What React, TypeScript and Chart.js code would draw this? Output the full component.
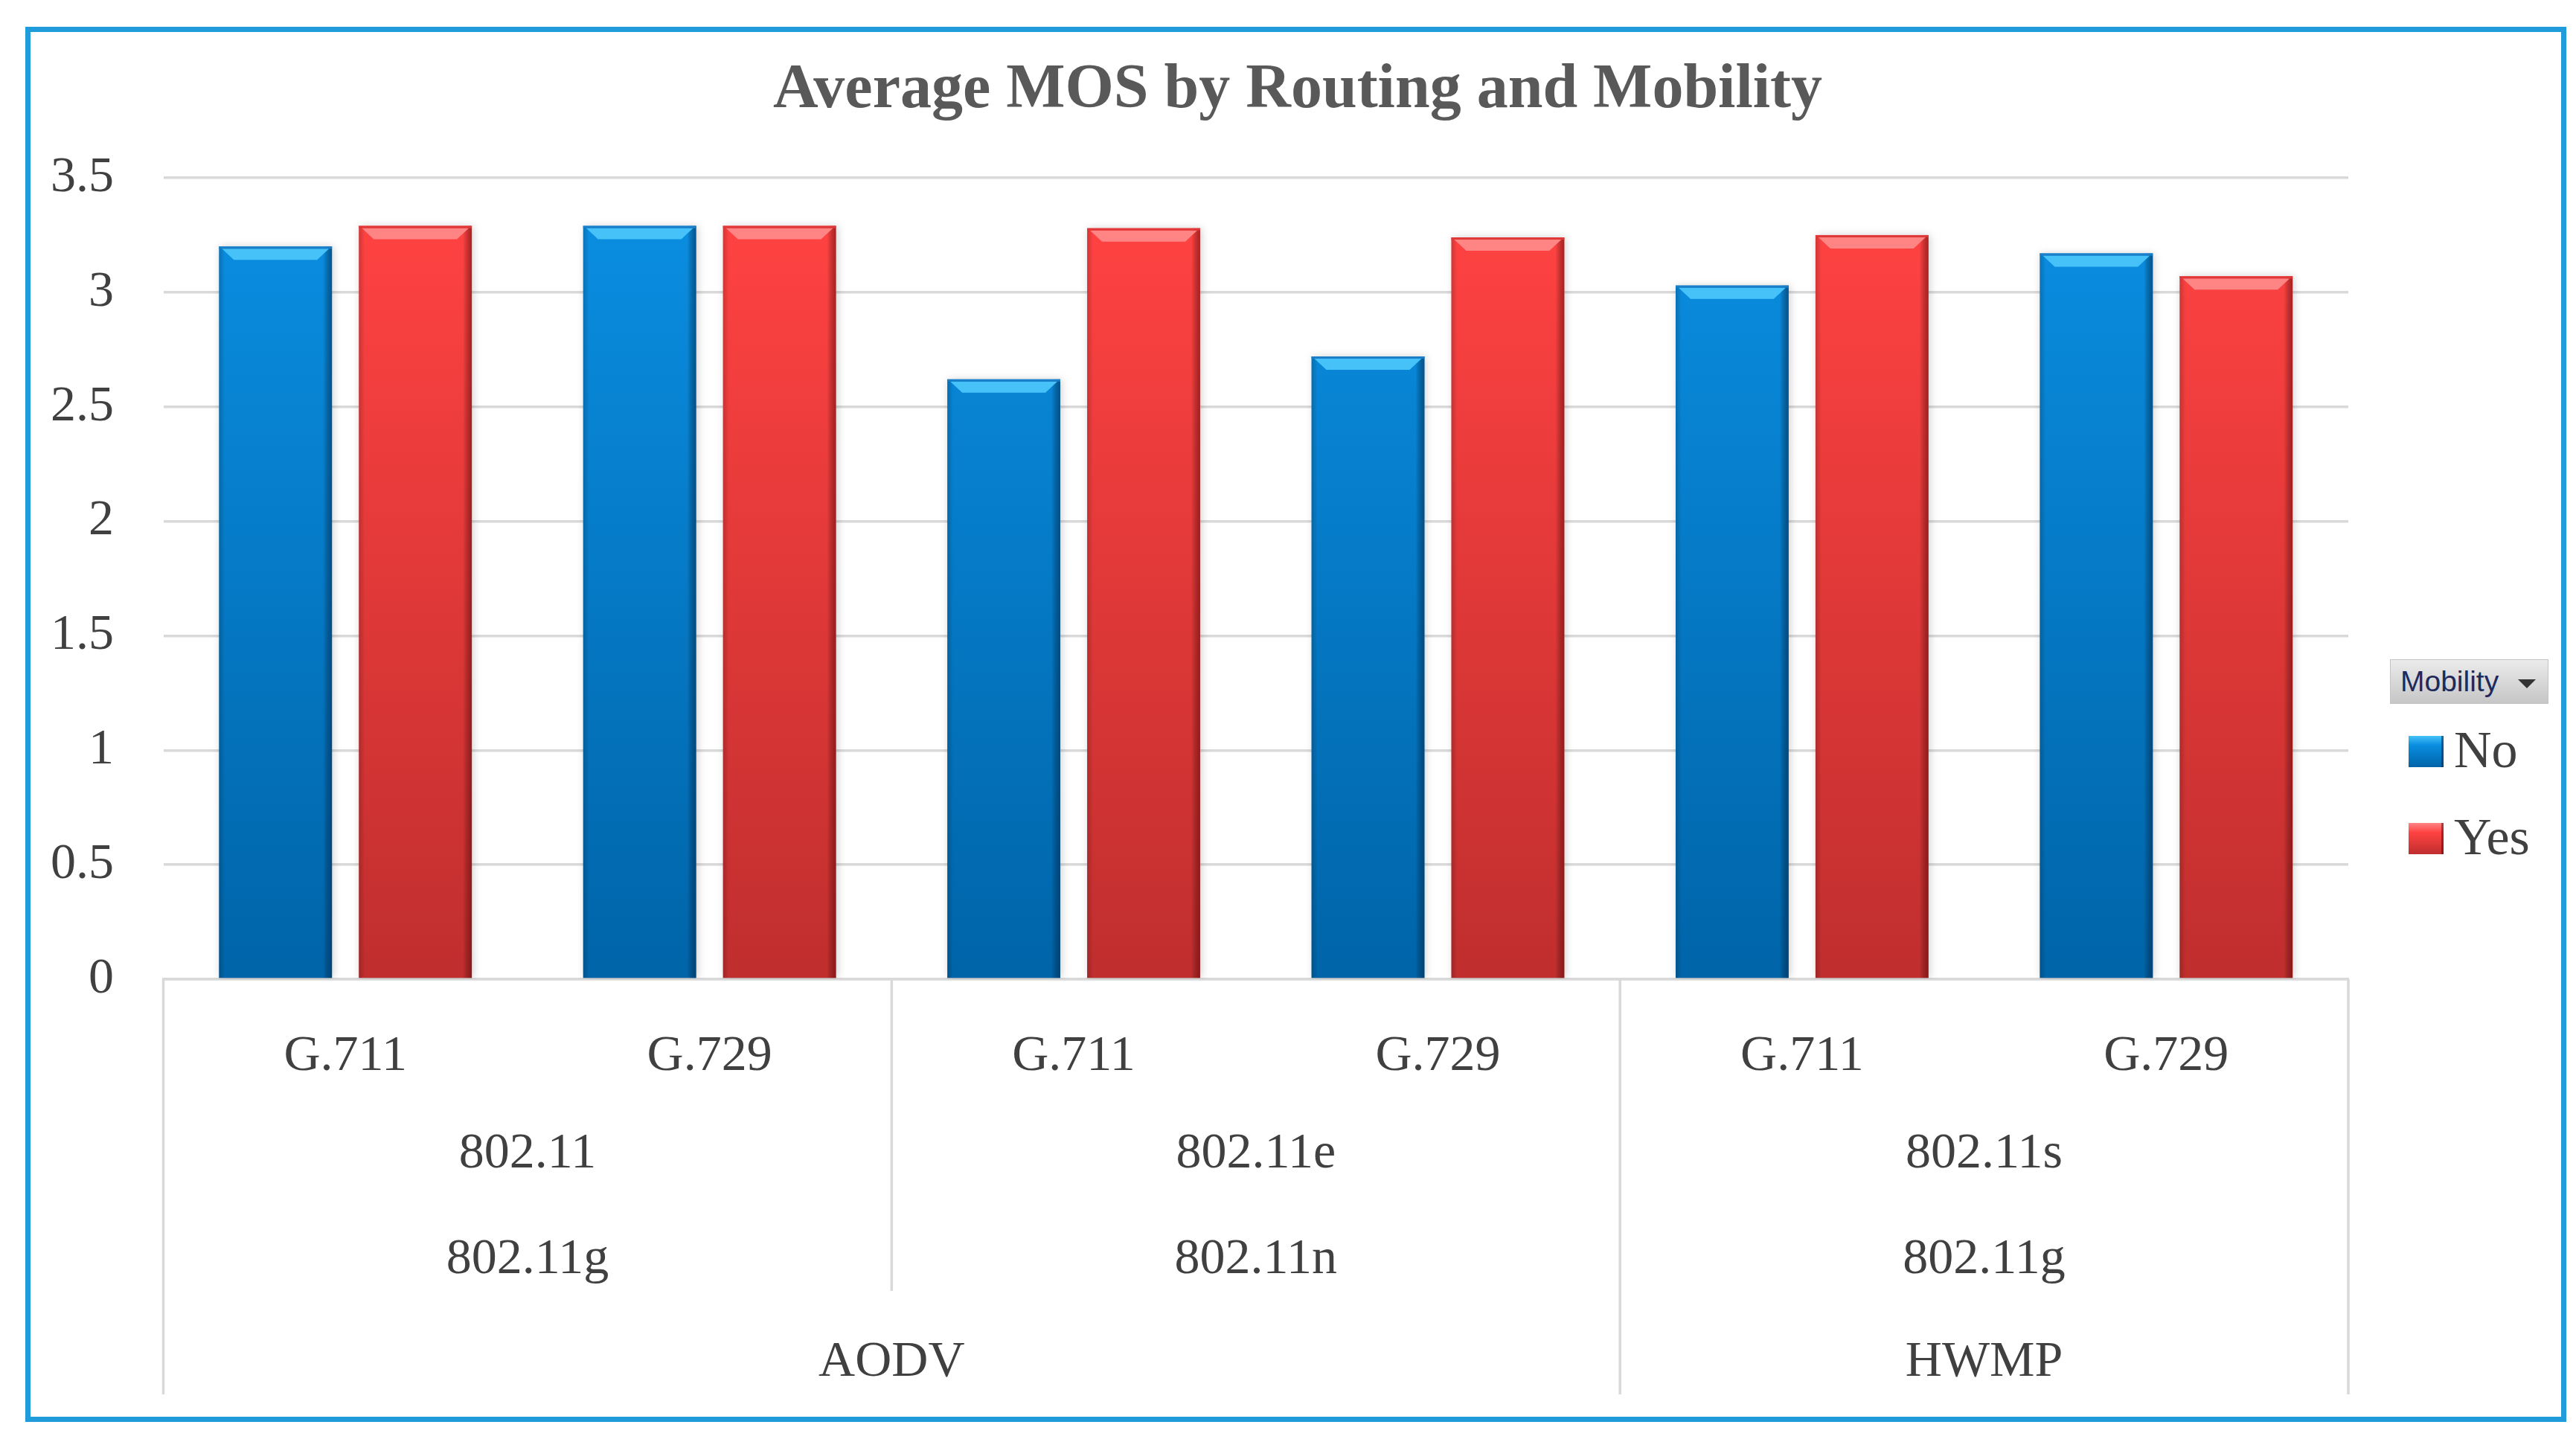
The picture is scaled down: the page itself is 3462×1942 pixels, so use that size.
import React, { useEffect, useRef } from "react";
import { Chart, registerables } from "chart.js";

Chart.register(...registerables);

// data
const codecLabels = ["G.711", "G.729", "G.711", "G.729", "G.711", "G.729"];
const macLabels = ["802.11", "802.11e", "802.11s"];
const phyLabels = ["802.11g", "802.11n", "802.11g"];
const macSpan = 2;
const routingLabels = ["AODV", "HWMP"];
const routingSpans = [4, 2];
const mosNo = [3.2, 3.29, 2.62, 2.72, 3.03, 3.17];
const mosYes = [3.29, 3.29, 3.28, 3.24, 3.25, 3.07];
const yTickValues = [0, 0.5, 1, 1.5, 2, 2.5, 3, 3.5];
const seriesNames = ["No", "Yes"];

const palette = [
  { top: "#0a8de0", bottom: "#0064a8", light: "#46c2f8", rim: "#1a7fc8", edge: "rgba(0,40,80,0.55)" },
  { top: "#ff4242", bottom: "#c02e2e", light: "#ff8585", rim: "#e03838", edge: "rgba(90,0,0,0.5)" },
];

const serif = "'Liberation Serif', 'Times New Roman', serif";
const textColor = "#404040";

const groupLabelsPlugin = {
  id: "groupLabels",
  afterDraw(chart: any) {
    const { ctx, chartArea, scales } = chart;
    const x = scales.x;
    const edge = (i: number) => x.getPixelForValue(i - 0.5);
    const b = chartArea.bottom;
    ctx.save();
    ctx.font = `68px ${serif}`;
    ctx.fillStyle = textColor;
    ctx.textAlign = "center";
    ctx.textBaseline = "middle";
    macLabels.forEach((lab, i) => {
      const c = (edge(i * macSpan) + edge((i + 1) * macSpan)) / 2;
      ctx.fillText(lab, c, b + 235);
      ctx.fillText(phyLabels[i], c, b + 377);
    });
    let start = 0;
    const full = new Set<number>([0]);
    routingLabels.forEach((lab, i) => {
      const end = start + routingSpans[i];
      ctx.fillText(lab, (edge(start) + edge(end)) / 2, b + 515);
      full.add(end);
      start = end;
    });
    // separator lines between groups
    ctx.strokeStyle = "#d9d9d9";
    ctx.lineWidth = 3.5;
    for (let i = 0; i <= codecLabels.length; i += macSpan) {
      const px = edge(i);
      ctx.beginPath();
      ctx.moveTo(px, b);
      ctx.lineTo(px, b + (full.has(i) ? 558 : 419));
      ctx.stroke();
    }
    ctx.restore();
  },
};

const bevelPlugin = {
  id: "bevel",
  beforeDatasetsDraw(chart: any) {
    const ctx = chart.ctx;
    ctx.save();
    ctx.shadowColor = "rgba(0,0,0,0.18)";
    ctx.shadowBlur = 10;
    ctx.shadowOffsetX = 2;
  },
  afterDatasetsDraw(chart: any) {
    const ctx = chart.ctx;
    ctx.restore();
    ctx.save();
    chart.data.datasets.forEach((_ds: any, di: number) => {
      const meta = chart.getDatasetMeta(di);
      const pal = palette[di];
      meta.data.forEach((el: any) => {
        const { x, y, base, width } = el.getProps(["x", "y", "base", "width"], true);
        const l = x - width / 2;
        const r = x + width / 2;
        const h = base - y;
        // right dark edge
        let g = ctx.createLinearGradient(r - 12, 0, r, 0);
        g.addColorStop(0, "rgba(0,0,0,0)");
        g.addColorStop(1, pal.edge);
        ctx.fillStyle = g;
        ctx.fillRect(r - 12, y, 12, h);
        // left soft edge
        g = ctx.createLinearGradient(l, 0, l + 8, 0);
        g.addColorStop(0, "rgba(0,0,0,0.18)");
        g.addColorStop(1, "rgba(0,0,0,0)");
        ctx.fillStyle = g;
        ctx.fillRect(l, y, 8, h);
        // top bevel highlight
        ctx.fillStyle = pal.light;
        ctx.beginPath();
        ctx.moveTo(l + 4, y + 3);
        ctx.lineTo(r - 4, y + 3);
        ctx.lineTo(r - 20, y + 18);
        ctx.lineTo(l + 20, y + 18);
        ctx.closePath();
        ctx.fill();
        ctx.fillStyle = pal.rim;
        ctx.fillRect(l, y, width, 3);
      });
    });
    ctx.restore();
  },
};

const barFill = (di: number) => (c: any) => {
  const { chart } = c;
  const area = chart.chartArea;
  const pal = palette[di];
  if (!area) return pal.top;
  const yTop = chart.scales.y.getPixelForValue(3.3);
  const g = chart.ctx.createLinearGradient(0, yTop, 0, area.bottom);
  g.addColorStop(0, pal.top);
  g.addColorStop(1, pal.bottom);
  return g;
};

const LegendBox = () => (
  <>
    <div
      style={{
        position: "absolute",
        left: 3212,
        top: 886,
        width: 213,
        height: 60,
        boxSizing: "border-box",
        background: "linear-gradient(#ebebeb, #c6c6c6)",
        border: "1px solid #c4c4c4",
        paddingLeft: 13,
        font: "39px 'Liberation Sans', Arial, sans-serif",
        lineHeight: "58px",
        color: "#1f2a5c",
      }}
    >
      Mobility
      <span
        style={{
          position: "absolute",
          left: 171,
          top: 26,
          width: 0,
          height: 0,
          borderLeft: "12px solid transparent",
          borderRight: "12px solid transparent",
          borderTop: "12px solid #333",
        }}
      />
    </div>
    {seriesNames.map((name, i) => (
      <div key={name}>
        <span
          style={{
            position: "absolute",
            left: 3237,
            top: 989 + i * 117,
            width: 47,
            height: 42,
            boxSizing: "border-box",
            background: `linear-gradient(${palette[i].light} 0%, ${palette[i].top} 30%, ${palette[i].bottom} 100%)`,
            borderRight: `3px solid ${palette[i].edge}`,
          }}
        />
        <span
          style={{
            position: "absolute",
            left: 3298,
            top: 973 + i * 117,
            font: `70px ${serif}`,
            lineHeight: "70px",
            color: textColor,
          }}
        >
          {name}
        </span>
      </div>
    ))}
  </>
);

const App: React.FC = () => {
  const chartRef = useRef<HTMLCanvasElement>(null);
  const chartInstance = useRef<Chart | null>(null);

  useEffect(() => {
    if (!chartRef.current) return;
    if (chartInstance.current) chartInstance.current.destroy();
    const ctx = chartRef.current.getContext("2d");
    if (!ctx) return;

    chartInstance.current = new Chart(ctx, {
      type: "bar",
      data: {
        labels: codecLabels,
        datasets: [
          {
            label: seriesNames[0],
            data: mosNo,
            backgroundColor: barFill(0),
            borderWidth: 0,
            barPercentage: 0.808,
            categoryPercentage: 0.768,
          },
          {
            label: seriesNames[1],
            data: mosYes,
            backgroundColor: barFill(1),
            borderWidth: 0,
            barPercentage: 0.808,
            categoryPercentage: 0.768,
          },
        ],
      },
      options: {
        responsive: true,
        maintainAspectRatio: false,
        animation: false,
        layout: { padding: { left: 26, right: 0, top: 0, bottom: 0 } },
        plugins: {
          legend: { display: false },
          tooltip: { enabled: false },
          title: {
            display: true,
            text: "Average MOS by Routing and Mobility",
            color: "#595959",
            font: { family: serif, size: 84, weight: "bold" },
            padding: { top: 72, bottom: 66.2 },
          },
        },
        scales: {
          x: {
            grid: { display: false },
            border: { display: true, color: "#d9d9d9", width: 3.5 },
            ticks: {
              color: textColor,
              font: { family: serif, size: 68 },
              padding: 55,
              maxRotation: 0,
              autoSkip: false,
            },
            afterFit: (s: any) => {
              s.height = 626;
            },
          },
          y: {
            min: 0,
            max: 3.5,
            afterBuildTicks: (s: any) => {
              s.ticks = yTickValues.map((v) => ({ value: v }));
            },
            grid: { color: "#d9d9d9", lineWidth: 3.5, drawTicks: false },
            border: { display: false },
            ticks: {
              color: textColor,
              font: { family: serif, size: 68 },
              padding: 66.5,
              callback: (v: any) => String(v),
            },
            afterFit: (s: any) => {
              s.width = 193.5;
            },
          },
          y2: {
            position: "right",
            grid: { display: false },
            border: { display: false },
            ticks: { display: false },
            afterFit: (s: any) => {
              s.width = 306;
            },
          },
        },
      } as any,
      plugins: [bevelPlugin, groupLabelsPlugin],
    });

    return () => {
      if (chartInstance.current) {
        chartInstance.current.destroy();
        chartInstance.current = null;
      }
    };
  }, []);

  return (
    <div
      style={{
        position: "relative",
        width: 3462,
        height: 1942,
        background: "#ffffff",
        overflow: "hidden",
      }}
    >
      <style>{`body{margin:0;background:#fff}`}</style>
      <div style={{ position: "absolute", left: 0, top: 0, width: 3462, height: 1942 }}>
        <canvas ref={chartRef}></canvas>
      </div>
      <div
        style={{
          position: "absolute",
          left: 34,
          top: 36,
          width: 3415,
          height: 1875,
          boxSizing: "border-box",
          border: "7px solid #1f9cd9",
          pointerEvents: "none",
        }}
      />
      <LegendBox />
    </div>
  );
};

export default App;
